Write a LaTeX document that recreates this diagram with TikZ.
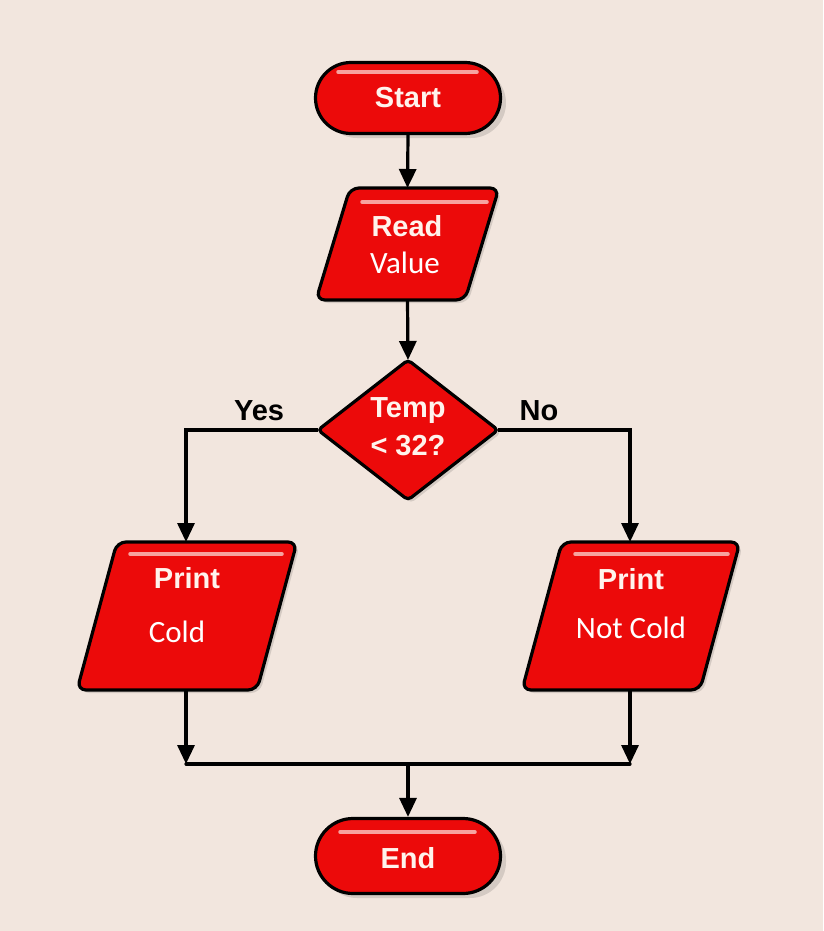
\documentclass[tikz,border=0pt]{standalone}
\usepackage{fontspec}
\setmainfont{Liberation Sans}
\newfontfamily\calfont{Carlito}
\usetikzlibrary{shapes.misc,arrows.meta,calc}
\definecolor{bg}{HTML}{F2E6DE}
\definecolor{boxred}{HTML}{EC0A0A}
\definecolor{hlpink}{HTML}{F7A3A0}
\definecolor{txtw}{HTML}{FFF3EC}
\tikzset{
  x=1pt, y=-1pt,
  shapebox/.style={draw=black, line width=3.2pt, fill=boxred, rounded corners=9pt},
  shadowbox/.style={fill=black, opacity=0.12, rounded corners=9pt},
  terminal/.style={rounded rectangle, draw=black, line width=3.2pt, fill=boxred,
    minimum width=185pt, minimum height=71pt, inner sep=0pt},
  frame/.style={rectangle, inner sep=0pt, outer sep=0pt},
  hl/.style={draw=hlpink, line width=3.5pt, line cap=round},
  intext/.style={text=txtw, font=\bfseries\fontsize{29}{31}\selectfont, inner sep=0pt},
  caltext/.style={text=white, font=\calfont\fontsize{31}{33}\selectfont, inner sep=0pt},
  lbl/.style={text=black, font=\bfseries\fontsize{29}{31}\selectfont, inner sep=0pt},
  conn/.style={draw=black, line width=3.2pt},
  arr/.style={conn, -{Triangle[length=19pt,width=17pt]}},
}
\begin{document}
\begin{tikzpicture}
\fill[bg] (0,0) rectangle (823,931);
\useasboundingbox (0,0) rectangle (823,931);

% frames (invisible) for custom shapes
\node[frame, minimum width=183pt, minimum height=112pt] (read) at (407.5,244) {};
\node[frame, minimum width=180pt, minimum height=140pt] (dec) at (408,430) {};
\node[frame, minimum width=220pt, minimum height=148pt] (left) at (187,616) {};
\node[frame, minimum width=218pt, minimum height=148pt] (right) at (631,616) {};

% shadows
\fill[shadowbox] ($(read.north west)+(37,3)$) -- ($(read.north east)+(3,3)$) -- ($(read.south east)+(-31,3)$) -- ($(read.south west)+(3,3)$) -- cycle;
\fill[shadowbox] ($(left.north west)+(43,3)$) -- ($(left.north east)+(3,3)$) -- ($(left.south east)+(-37,3)$) -- ($(left.south west)+(3,3)$) -- cycle;
\fill[shadowbox] ($(right.north west)+(43,3)$) -- ($(right.north east)+(3,3)$) -- ($(right.south east)+(-37,3)$) -- ($(right.south west)+(3,3)$) -- cycle;
\fill[shadowbox, rounded corners=4pt] ($(dec.north)+(3,3)$) -- ($(dec.east)+(3,3)$) -- ($(dec.south)+(3,3)$) -- ($(dec.west)+(3,3)$) -- cycle;
\fill[black, opacity=0.12, rounded corners=35pt] (322,68) rectangle (506,138);
\fill[black, opacity=0.12, rounded corners=36pt] (321,824) rectangle (506,898);

% shapes
\draw[shapebox] ($(read.north west)+(34,0)$) -- (read.north east) -- ($(read.south east)+(-34,0)$) -- (read.south west) -- cycle;
\draw[shapebox] ($(left.north west)+(40,0)$) -- (left.north east) -- ($(left.south east)+(-40,0)$) -- (left.south west) -- cycle;
\draw[shapebox] ($(right.north west)+(40,0)$) -- (right.north east) -- ($(right.south east)+(-40,0)$) -- (right.south west) -- cycle;
\draw[shapebox, rounded corners=4pt] (dec.north) -- (dec.east) -- (dec.south) -- (dec.west) -- cycle;

\node[terminal] (start) at (408,98) {};
\node[terminal, minimum height=75pt] (end) at (408,856) {};

% highlights
\draw[hl] (338,72) -- (477,72);
\draw[hl] (362,202) -- (487,202);
\draw[hl] (130,554) -- (282,554);
\draw[hl] (575,554) -- (728,554);
\draw[hl] (340,832) -- (475,832);

% texts
\node[intext] (tstart) at (408,98) {Start};
\node[intext] (tread) at (407,226) {Read};
\node[caltext] (tvalue) at (405,263) {Value};
\node[intext] (ttemp) at (408,411) {Temp};
\node[intext] (tcmp) at (408,446) {< 32?};
\node[intext] (tprint1) at (187,578) {Print};
\node[caltext] (tcold) at (177,632) {Cold};
\node[intext] (tprint2) at (631,579) {Print};
\node[caltext] (tnotcold) at (631,628) {Not Cold};
\node[intext] (tend) at (408,858) {End};

% connectors
\draw[arr] (start.south) -- (read.north);
\draw[arr] (read.south) -- (dec.north);
\draw[arr] (dec.west) -| ([xshift=-1pt]left.north);
\draw[arr] (dec.east) -| ([xshift=-1pt]right.north);
\coordinate (jl) at (186,764);
\coordinate (jr) at (630,764);
\coordinate (jm) at (408,764);
\draw[arr] ([xshift=-1pt]left.south) -- (jl);
\draw[arr] ([xshift=-1pt]right.south) -- (jr);
\draw[conn, line cap=round] (jl) -- (jr);
\draw[arr] (jm) -- (end.north);

\node[lbl] (yes) at (259,411) {Yes};
\node[lbl] (no) at (539,411) {No};
\end{tikzpicture}
\end{document}
